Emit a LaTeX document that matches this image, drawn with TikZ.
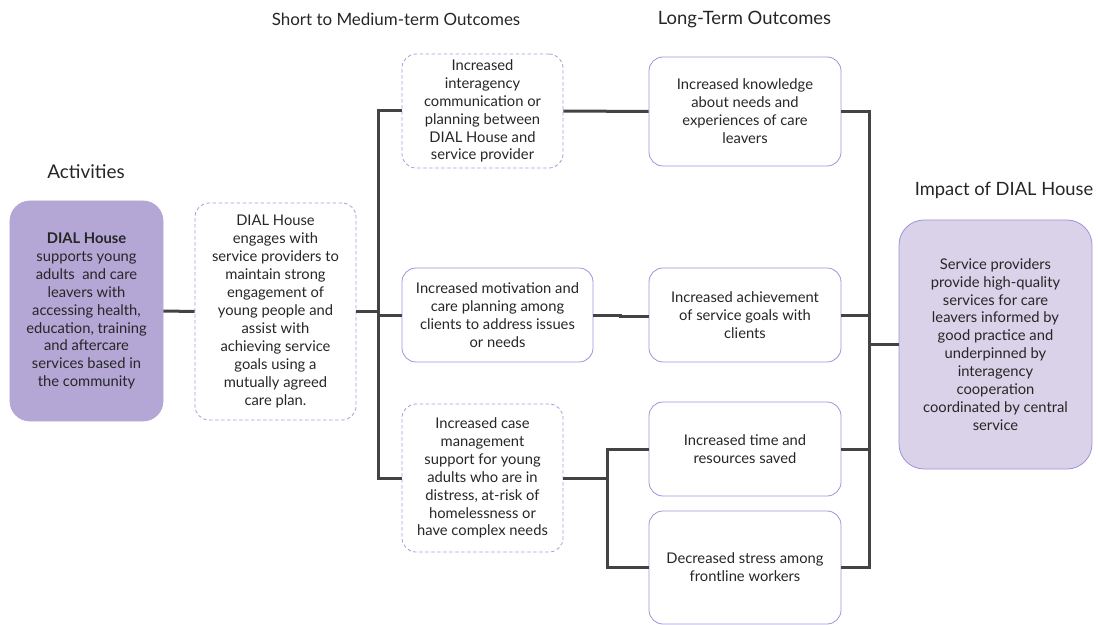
\documentclass[tikz,border=0pt]{standalone}
\usepackage{fontspec}
\setmainfont{Lato}
\usetikzlibrary{calc}
\definecolor{actfill}{HTML}{B4A7D6}
\definecolor{impfill}{HTML}{D9D2E9}
\definecolor{solidline}{HTML}{9F92DA}
\definecolor{dashline}{HTML}{A99CDC}
\definecolor{connc}{HTML}{434343}
\definecolor{txt}{HTML}{262626}
\begin{document}
\begin{tikzpicture}[x=1bp,y=-1bp,
  box/.style={draw=solidline, line width=0.8bp, rounded corners=14bp, align=center,
    font=\fontsize{14.8}{18}\selectfont, text=txt, inner sep=0pt},
  dbox/.style={box, draw=dashline, dash pattern=on 3.5bp off 2.5bp},
  conn/.style={draw=connc, line width=3bp},
  ttl/.style={text=txt}]
\useasboundingbox (0,0) rectangle (1098,625);
% titles
\node[ttl, font=\fontsize{19}{22}\selectfont] (tact) at (86,172) {Activities};
\node[ttl, font=\fontsize{17}{20}\selectfont] (tsm) at (396,19.5) {Short to Medium-term Outcomes};
\node[ttl, font=\fontsize{18.5}{22}\selectfont] (tlt) at (744.5,19.5) {Long-Term Outcomes};
\node[ttl, font=\fontsize{18.4}{22}\selectfont] (timp) at (1004,190) {Impact of DIAL House};
% boxes
\node[box, fill=actfill, draw=actfill, rounded corners=20bp, minimum width=153bp, minimum height=220bp] (act) at (86.5,311)
 {\textbf{DIAL House}\\supports young\\adults\ \ and care\\leavers with\\accessing health,\\education, training\\and aftercare\\services based in\\the community};
\node[dbox, minimum width=161bp, minimum height=217bp] (eng) at (275.5,311.5)
 {DIAL House\\engages with\\service providers to\\maintain strong\\engagement of\\young people and\\assist with\\achieving service\\goals using a\\mutually agreed\\care plan.};
\node[dbox, minimum width=161bp, minimum height=114bp] (s1) at (482.5,111)
 {Increased\\interagency\\communication or\\planning between\\DIAL House and\\service provider};
\node[box, minimum width=191bp, minimum height=94bp] (s2) at (497.5,315)
 {Increased motivation and\\care planning among\\clients to address issues\\or needs};
\node[dbox, minimum width=161bp, minimum height=148bp] (s3) at (482.5,478)
 {Increased case\\management\\support for young\\adults who are in\\distress, at-risk of\\homelessness or\\have complex needs};
\node[box, minimum width=192bp, minimum height=109bp] (l1) at (745,111.5)
 {Increased knowledge\\about needs and\\experiences of care\\leavers};
\node[box, minimum width=192bp, minimum height=94bp] (l2) at (745,315)
 {Increased achievement\\of service goals with\\clients};
\node[box, minimum width=192bp, minimum height=94bp] (l3) at (745,449)
 {Increased time and\\resources saved};
\node[box, minimum width=192bp, minimum height=113bp] (l4) at (745,567.5)
 {Decreased stress among\\frontline workers};
\node[box, fill=impfill, rounded corners=25bp, minimum width=193bp, minimum height=249bp] (imp) at (995.5,344.5)
 {Service providers\\provide high-quality\\services for care\\leavers informed by\\good practice and\\underpinned by\\interagency\\cooperation\\coordinated by central\\service};
% junctions
\coordinate (v1) at (378,311.5);
\coordinate (j1) at (620,315);
\coordinate (j2) at (620,316.5);
\coordinate (v3) at (607,478);
\coordinate (v4) at (869,344.5);
% connectors
\draw[conn] (act.east) -- (eng.west);
\draw[conn] (eng.east) -- (v1);
\draw[conn] (s1.west) -| (v1) |- (s3.west);
\draw[conn] (v1) -- (s2.west -| v1) -- (s2.west);
\draw[conn] (s1.east) -- (l1.west);
\draw[conn] (s2.east) -- (j1) -- (j2) -- (j2 -| l2.west);
\draw[conn] (s3.east) -- (v3);
\draw[conn] (l3.west) -| (v3) |- (l4.west);
\draw[conn] (l1.east) -| (v4) |- (l4.east);
\draw[conn] (l2.east) -- (l2.east -| v4);
\draw[conn] (l3.east) -- (l3.east -| v4);
\draw[conn] (v4) -- (imp.west);
\end{tikzpicture}
\end{document}
